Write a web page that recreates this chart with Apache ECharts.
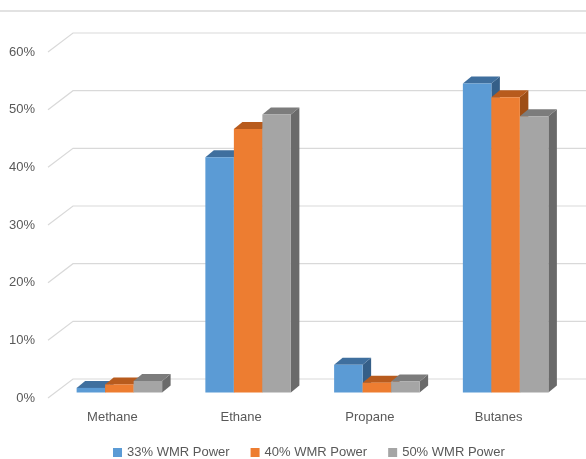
<!DOCTYPE html>
<html>
<head>
<meta charset="utf-8">
<script src="https://cdn.jsdelivr.net/npm/echarts@6/dist/echarts.min.js"></script>
<style>
  html, body { margin: 0; padding: 0; background: #fff; }
  #chart { width: 586px; height: 459px; }
</style>
</head>
<body>
<div id="chart"></div>
<script>
// Gas composition by WMR power setting
const categories = ['Methane', 'Ethane', 'Propane', 'Butanes'];
const seriesNames = ['33% WMR Power', '40% WMR Power', '50% WMR Power'];
const wmr33 = [0.8, 40.8, 4.8, 53.6];
const wmr40 = [1.4, 45.7, 1.7, 51.2];
const wmr50 = [2.0, 48.2, 1.9, 47.9];
const yTicks = [0, 10, 20, 30, 40, 50, 60];

const seriesValues = [wmr33, wmr40, wmr50];

// face colours: front, top, side
const palettes = [
  { front: '#5B9BD5', top: '#3F6F9E', side: '#355F88' },
  { front: '#ED7D31', top: '#B85B1D', side: '#9E4E16' },
  { front: '#A5A5A5', top: '#7C7C7C', side: '#6A6A6A' }
];

// 3D look: back wall offset and bar depth (pixels)
const WALL_DX = 25, WALL_DY = 19;
const BAR_SHIFT_X = 7, BAR_SHIFT_Y = 5.5;
const DEPTH_DX = 8.5, DEPTH_DY = 7;
const BAR_FRACTION = 0.2214;

const FONT = 'Liberation Sans, Arial, sans-serif';

const chart = echarts.init(document.getElementById('chart'), null, { renderer: 'canvas' });

function wallRender(params, api) {
  const cs = params.coordSys;
  const y = api.coord([0, api.value(0)])[1];
  return {
    type: 'polyline',
    shape: {
      points: [
        [cs.x, y],
        [cs.x + WALL_DX, y - WALL_DY],
        [cs.x + cs.width + 60, y - WALL_DY]
      ]
    },
    style: { stroke: '#D9D9D9', lineWidth: 1.2, fill: null },
    silent: true
  };
}

function makeBarRender(k) {
  const pal = palettes[k];
  return function (params, api) {
    const cat = api.value(0);
    const val = api.value(1);
    const band = api.size([1, 0])[0];
    const bw = band * BAR_FRACTION;
    const base = api.coord([cat, 0]);
    const top = api.coord([cat, val]);
    const x0 = base[0] + (k - 1.5) * bw + BAR_SHIFT_X;
    const x1 = x0 + bw;
    const yb = base[1] - BAR_SHIFT_Y;
    const yt = top[1] - BAR_SHIFT_Y;
    return {
      type: 'group',
      children: [
        {
          type: 'polygon',
          shape: { points: [[x1, yt], [x1 + DEPTH_DX, yt - DEPTH_DY], [x1 + DEPTH_DX, yb - DEPTH_DY], [x1, yb]] },
          style: { fill: pal.side }
        },
        {
          type: 'polygon',
          shape: { points: [[x0, yt], [x1, yt], [x1 + DEPTH_DX, yt - DEPTH_DY], [x0 + DEPTH_DX, yt - DEPTH_DY]] },
          style: { fill: pal.top }
        },
        {
          type: 'rect',
          shape: { x: x0, y: yt, width: bw, height: yb - yt },
          style: { fill: pal.front }
        }
      ]
    };
  };
}

const series = [
  {
    type: 'custom',
    name: 'wall',
    silent: true,
    renderItem: wallRender,
    data: yTicks.map(v => [v]),
    encode: { y: 0 },
    z: 1
  }
];

seriesValues.forEach((vals, k) => {
  series.push({
    type: 'custom',
    name: seriesNames[k],
    renderItem: makeBarRender(k),
    itemStyle: { color: palettes[k].front },
    data: vals.map((v, i) => [i, v]),
    encode: { x: 0, y: 1 },
    z: 2 + k
  });
});

chart.setOption({
  animation: false,
  backgroundColor: '#ffffff',
  textStyle: { fontFamily: FONT },
  grid: { left: 48, right: 23, top: 52, bottom: 61, containLabel: false },
  xAxis: {
    type: 'category',
    data: categories,
    axisLine: { show: false },
    axisTick: { show: false },
    splitLine: { show: false },
    axisLabel: { color: '#595959', fontSize: 13, margin: 13, fontFamily: FONT }
  },
  yAxis: {
    type: 'value',
    min: 0,
    max: 60,
    interval: 10,
    axisLine: { show: false },
    axisTick: { show: false },
    splitLine: { show: false },
    axisLabel: { color: '#595959', fontSize: 13, margin: 13, formatter: '{value}%', fontFamily: FONT }
  },
  legend: {
    data: seriesNames.map(n => ({ name: n, icon: 'rect' })),
    left: 113,
    top: 446,
    padding: 0,
    itemWidth: 9,
    itemHeight: 9,
    itemGap: 21,
    textStyle: { color: '#595959', fontSize: 13, fontFamily: FONT }
  },
  graphic: [
    {
      type: 'line',
      shape: { x1: 0, y1: 11, x2: 586, y2: 11 },
      style: { stroke: '#D9D9D9', lineWidth: 1.5 },
      silent: true
    }
  ],
  series: series
});
</script>
</body>
</html>
